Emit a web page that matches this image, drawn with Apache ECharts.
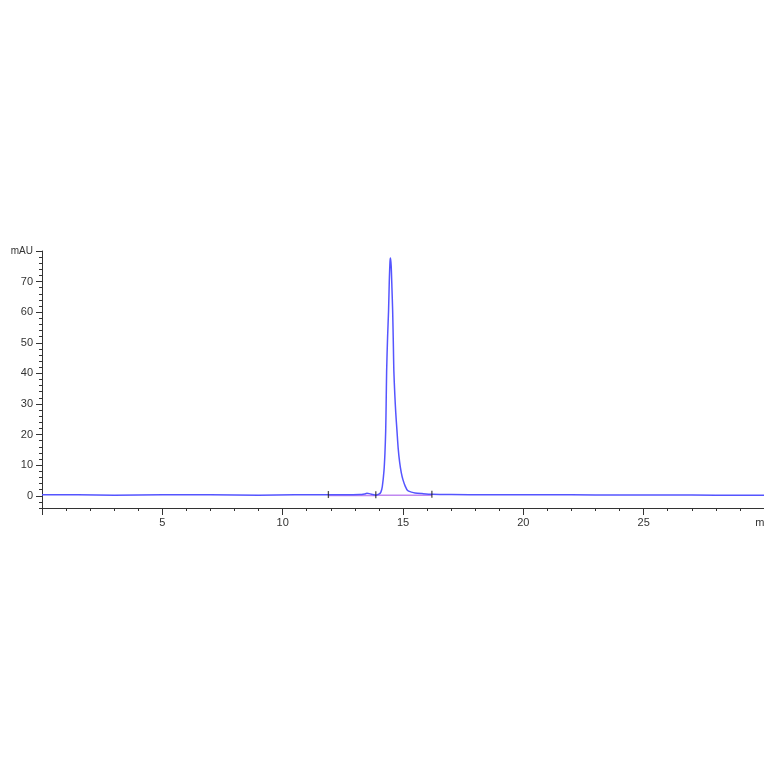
<!DOCTYPE html>
<html>
<head>
<meta charset="utf-8">
<script src="https://cdn.jsdelivr.net/npm/echarts@6/dist/echarts.min.js"></script>
<style>
html,body{margin:0;padding:0;background:#fff;overflow:hidden;}
#c{width:764px;height:764px;}
</style>
</head>
<body>
<div id="c"></div>
<script>
// Retention time (min) and absorbance (mAU)
var times = [0, 1.5, 3, 5, 7, 9, 10.5, 11.9, 12.6, 13.2, 13.4, 13.5, 13.6, 13.75, 13.87,
  14.0, 14.08, 14.14, 14.21, 14.25, 14.28, 14.30, 14.32, 14.36, 14.40, 14.43, 14.46, 14.48,
  14.51, 14.54, 14.57, 14.60, 14.62, 14.66, 14.70, 14.75, 14.80, 14.86, 14.93, 15.0, 15.1,
  15.19, 15.35, 15.5, 15.8, 16.2, 17, 18.5, 20, 22, 24, 26, 28, 30];
var mAU = [0.3, 0.3, 0.2, 0.3, 0.3, 0.2, 0.3, 0.3, 0.3, 0.4, 0.6, 0.8, 0.7, 0.4, 0.2,
  0.5, 1.2, 3.0, 8.2, 14, 21, 30, 40.8, 52, 60.5, 70, 76.5, 77.7,
  75, 68, 60.5, 49, 40.8, 33, 27, 21.2, 15.5, 11, 7.5, 5.2, 3.0,
  1.7, 1.2, 0.9, 0.7, 0.5, 0.4, 0.35, 0.3, 0.3, 0.25, 0.25, 0.2, 0.2];
// Integration events and baselines
var markerTimes = [11.9, 13.87, 16.2];
var markerValues = [0.4, 0.3, 0.5];
var baseStart = [11.9, 13.87];
var baseEnd = [13.87, 16.2];
var baseLevel = [0.1, 0.15];
// Axis ticks
var yLabelValues = [0, 10, 20, 30, 40, 50, 60, 70, 80];
var yMinorValues = [-4, -2, 2, 4, 6, 8, 12, 14, 16, 18, 22, 24, 26, 28, 32, 34, 36, 38,
  42, 44, 46, 48, 52, 54, 56, 58, 62, 64, 66, 68, 72, 74, 76, 78];
var xUnit = 'min';
var yUnit = 'mAU';

var trace = times.map(function (t, i) { return [t, mAU[i]]; });
var baseData = [];
baseStart.forEach(function (s, i) {
  baseData.push([s, baseLevel[i]]);
  baseData.push([baseEnd[i], baseLevel[i]]);
  baseData.push(['-', '-']);
});
var markers = markerTimes.map(function (t, i) { return [t, markerValues[i]]; });

var font = 'Liberation Sans, Arial, sans-serif';
var chart = echarts.init(document.getElementById('c'), null, { width: 764, height: 764 });
chart.setOption({
  animation: false,
  backgroundColor: '#fff',
  grid: { left: 42, right: 0, top: 251, bottom: 256, containLabel: false, outerBoundsMode: 'none' },
  xAxis: {
    type: 'value', min: 0, max: 30, interval: 5,
    axisLine: { show: true, onZero: false, lineStyle: { color: '#333', width: 1 } },
    axisTick: { show: true, length: 7, lineStyle: { color: '#333' } },
    minorTick: { show: true, splitNumber: 5, length: 3, lineStyle: { color: '#333' } },
    splitLine: { show: false },
    axisLabel: {
      margin: 9, fontSize: 11, color: '#333', fontFamily: font,
      formatter: function (v) { return v === 0 ? '' : (v === 30 ? '{m|' + xUnit + '}' : String(v)); },
      rich: { m: { fontSize: 11, color: '#333', fontFamily: font, padding: [0, 0, 0, 0], align: 'left' } }
    }
  },
  yAxis: [{
    type: 'value', min: -4, max: 80,
    axisLine: { show: true, onZero: false, lineStyle: { color: '#333', width: 1 } },
    axisTick: { show: true, length: 6, customValues: yLabelValues, lineStyle: { color: '#333' } },
    splitLine: { show: false },
    axisLabel: {
      customValues: yLabelValues, margin: 9, fontSize: 11, color: '#333', fontFamily: font,
      formatter: function (v) { return v === 80 ? '{u|' + yUnit + '}' : String(v); },
      rich: { u: { fontSize: 10, color: '#333', fontFamily: font } }
    }
  }, {
    type: 'value', min: -4, max: 80, position: 'left',
    axisLine: { show: false },
    axisTick: { show: true, length: 3, customValues: yMinorValues, lineStyle: { color: '#333' } },
    axisLabel: { show: false },
    splitLine: { show: false }
  }],
  series: [{
    type: 'line', data: baseData, yAxisIndex: 0, symbol: 'none', silent: true,
    connectNulls: false,
    lineStyle: { color: '#c088f0', width: 1.5 }, z: 2
  }, {
    type: 'line', data: trace, yAxisIndex: 0, symbol: 'none', smooth: 0.25,
    lineStyle: { color: '#5555ff', width: 1.5 }, z: 3
  }, {
    type: 'scatter', data: markers, yAxisIndex: 0, symbol: 'rect', symbolSize: [1.3, 7],
    itemStyle: { color: '#222' }, z: 4
  }]
});
</script>
</body>
</html>
